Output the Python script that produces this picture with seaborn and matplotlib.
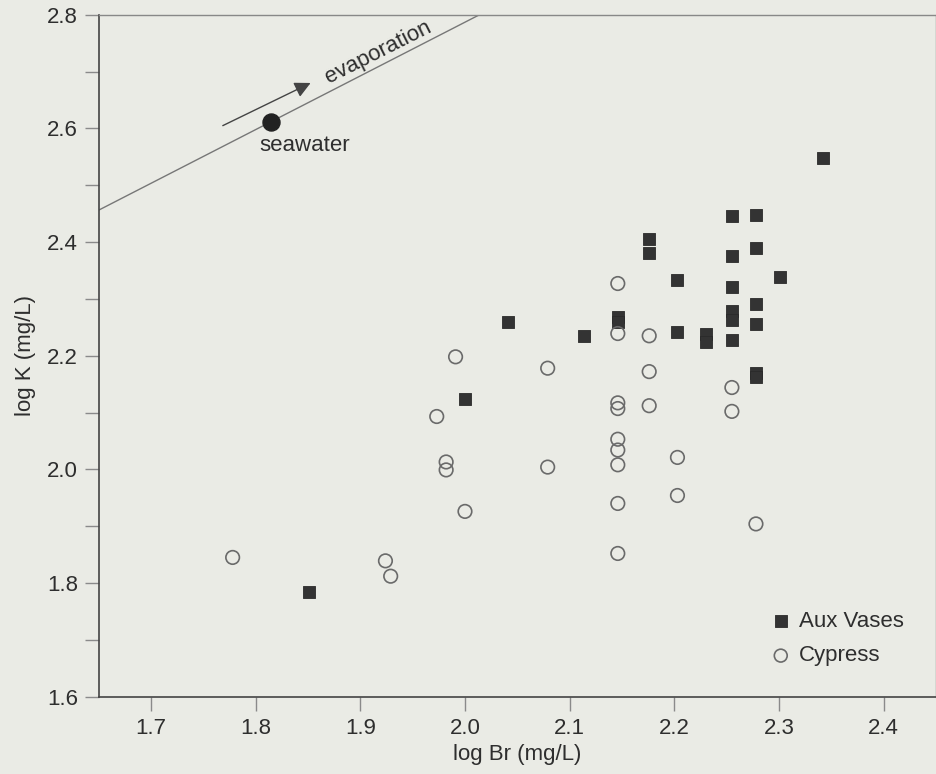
import numpy as np
import pandas as pd
import matplotlib
matplotlib.use("Agg")
import matplotlib.pyplot as plt
import seaborn as sns

# ---- data ----
aux_br = [1.851, 2.000, 2.041, 2.114, 2.146, 2.146, 2.176, 2.176, 2.203, 2.203,
          2.230, 2.230, 2.255, 2.255, 2.255, 2.255, 2.255, 2.255,
          2.278, 2.278, 2.278, 2.278, 2.278, 2.278, 2.301, 2.342]
aux_k = [1.785, 2.124, 2.259, 2.235, 2.268, 2.259, 2.405, 2.380, 2.333, 2.242,
         2.238, 2.224, 2.445, 2.376, 2.321, 2.278, 2.263, 2.228,
         2.448, 2.390, 2.291, 2.255, 2.170, 2.163, 2.339, 2.547]

cyp_br = [1.778, 1.924, 1.929, 1.973, 1.982, 1.982, 1.991, 2.000, 2.079, 2.079,
          2.146, 2.146, 2.146, 2.146, 2.146, 2.146, 2.146, 2.146, 2.146,
          2.176, 2.176, 2.176, 2.203, 2.203, 2.255, 2.255, 2.278]
cyp_k = [1.845, 1.839, 1.812, 2.093, 2.013, 1.999, 2.198, 1.926, 2.178, 2.004,
         2.327, 2.239, 2.117, 2.107, 2.053, 2.034, 2.008, 1.940, 1.852,
         2.235, 2.172, 2.112, 2.021, 1.954, 2.144, 2.102, 1.904]

seawater_br = [1.815]
seawater_k = [2.612]
evap_slope = 0.945
arrow_start = (1.7686, 2.6048)
arrow_end = (1.8525, 2.6799)

x_ticks = [1.7, 1.8, 1.9, 2.0, 2.1, 2.2, 2.3, 2.4]
y_ticks = [1.6, 1.8, 2.0, 2.2, 2.4, 2.6, 2.8]
y_minor = [1.7, 1.9, 2.1, 2.3, 2.5, 2.7]

df = pd.DataFrame({
    "logBr": aux_br + cyp_br,
    "logK": aux_k + cyp_k,
    "site": ["Aux Vases"] * len(aux_br) + ["Cypress"] * len(cyp_br),
})

# ---- style ----
sns.set_theme(style="white")
plt.rcParams["font.family"] = ["Liberation Sans", "DejaVu Sans"]
bg = "#eaebe5"
txt = "#2e2e2e"

fig = plt.figure(figsize=(9.37, 7.74), dpi=100, facecolor=bg)
ax = fig.add_axes([0.1053, 0.0999, 0.8936, 0.8811], facecolor=bg)

sns.scatterplot(data=df[df.site == "Aux Vases"], x="logBr", y="logK", ax=ax,
                marker="s", s=80, color="#333333", edgecolor="#2a2a2a",
                linewidth=0.6, label="Aux Vases", zorder=3)
sns.scatterplot(data=df[df.site == "Cypress"], x="logBr", y="logK", ax=ax,
                marker="o", s=95, facecolor="none", edgecolor="#6a6a6a",
                linewidth=1.2, label="Cypress", zorder=3)

# seawater evaporation line
ax.axline((seawater_br[0], seawater_k[0]), slope=evap_slope, color="#777777",
          lw=1.0, zorder=1)
ax.scatter(seawater_br, seawater_k, s=150, color="#222222", zorder=4)
ax.annotate("", xy=arrow_end, xytext=arrow_start,
            arrowprops=dict(arrowstyle="-|>", color="#444444", lw=1.0,
                            mutation_scale=24, shrinkA=0, shrinkB=0))
ax.text(1.9174, 2.7339, "evaporation", rotation=26.8, rotation_mode="anchor",
        ha="center", va="center", fontsize=16, color=txt)
ax.text(1.8468, 2.5696, "seawater", ha="center", va="center", fontsize=16,
        color=txt)

ax.set_xlim(1.65, 2.45)
ax.set_ylim(1.6, 2.8)
ax.set_xticks(x_ticks)
ax.set_xticklabels([f"{v:.1f}" for v in x_ticks])
ax.set_yticks(y_ticks)
ax.set_yticklabels([f"{v:.1f}" for v in y_ticks])
ax.set_yticks(y_minor, minor=True)
ax.tick_params(which="both", direction="out", length=10, width=1,
               color="#8a8a8a", pad=5, labelsize=16, labelcolor=txt,
               left=True, bottom=True)

ax.set_xlabel("log Br (mg/L)", fontsize=16, color=txt, labelpad=4)
ax.set_ylabel("log K (mg/L)", fontsize=16, color=txt, labelpad=8)

for side in ["left", "bottom"]:
    ax.spines[side].set_color("#444444")
    ax.spines[side].set_linewidth(1.2)
for side in ["top", "right"]:
    ax.spines[side].set_color("#888888")
    ax.spines[side].set_linewidth(1.0)

leg = ax.legend(loc="lower right", bbox_to_anchor=(0.985, 0.015), frameon=False,
                fontsize=16, handletextpad=0.3, labelspacing=0.6,
                handlelength=1.0, markerscale=0.95)
for t in leg.get_texts():
    t.set_color(txt)

fig.savefig("out.png", dpi=100, facecolor=bg)
